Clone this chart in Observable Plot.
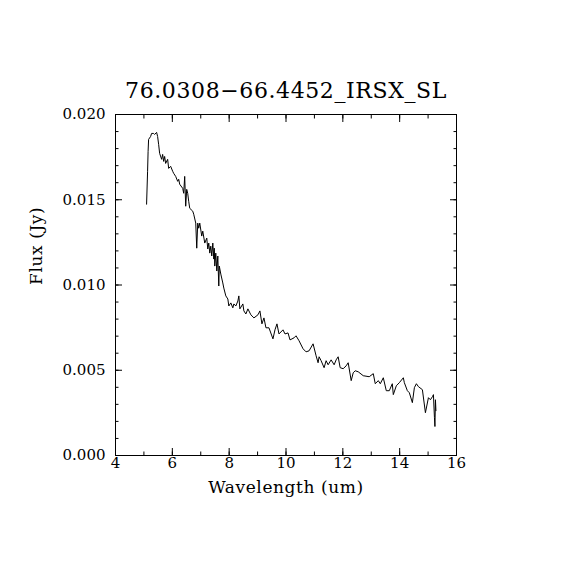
<!DOCTYPE html>
<html>
<head>
<meta charset="utf-8">
<script src="https://cdn.jsdelivr.net/npm/d3@7"></script>
<script src="https://cdn.jsdelivr.net/npm/@observablehq/plot@0.6"></script>
<style>
  html, body { margin: 0; padding: 0; background: #fff; }
  #chart { width: 570px; height: 570px; overflow: hidden; }
</style>
</head>
<body>
<div id="chart"></div>
<script>
const title = "76.0308\u221266.4452_IRSX_SL";
const xLabel = "Wavelength (um)";
const yLabel = "Flux (Jy)";

const wavelength = [
  5.094, 5.129, 5.147, 5.165, 5.235, 5.271, 5.341, 5.376, 5.447, 5.482,
  5.518, 5.553, 5.624, 5.659, 5.694, 5.729, 5.765, 5.835, 5.871, 5.941,
  6.012, 6.047, 6.118, 6.188, 6.224, 6.259, 6.365, 6.400, 6.435, 6.471,
  6.506, 6.541, 6.576, 6.612, 6.718, 6.753, 6.824, 6.859, 6.894,
  6.929, 6.965, 7.035, 7.071, 7.141, 7.212, 7.247, 7.282, 7.318, 7.353,
  7.388, 7.424, 7.459, 7.476, 7.494, 7.529, 7.565, 7.600, 7.635, 7.653,
  7.706, 7.776, 7.812, 7.882, 7.953, 7.988, 8.059, 8.129, 8.165, 8.235,
  8.306, 8.341, 8.376, 8.482, 8.518,
  8.588, 8.659, 8.765, 8.871,
  9.012, 9.082, 9.153, 9.224, 9.294, 9.400, 9.541, 9.612, 9.682, 9.753,
  9.894, 9.965, 10.071, 10.141, 10.282, 10.353, 10.459, 10.600, 10.706, 10.812,
  10.953, 11.059, 11.129, 11.165, 11.235, 11.341, 11.412, 11.482, 11.588, 11.694,
  11.765, 11.835, 11.906, 12.012, 12.118, 12.188, 12.294, 12.365, 12.435, 12.541,
  12.718, 12.929, 13.071, 13.141, 13.247, 13.318, 13.424, 13.529, 13.635, 13.741,
  13.776, 13.882, 13.988, 14.129, 14.165, 14.271, 14.341, 14.447, 14.518, 14.588,
  14.659, 14.800, 14.906, 15.012, 15.082, 15.153, 15.188, 15.224, 15.241, 15.259,
  15.276
];

const flux = [
  0.01474, 0.01667, 0.01784, 0.01854, 0.01871, 0.01889, 0.01889, 0.01883, 0.01895, 0.01871,
  0.01825, 0.01772, 0.01737, 0.01766, 0.01725, 0.01754, 0.01713, 0.01737, 0.01684, 0.01696,
  0.01667, 0.01655, 0.01637, 0.01608, 0.01620, 0.01591, 0.01567, 0.01538, 0.01637, 0.01462,
  0.01561, 0.01538, 0.01491, 0.01450, 0.01433, 0.01415, 0.01363, 0.01216, 0.01363,
  0.01333, 0.01363, 0.01287, 0.01316, 0.01246, 0.01275, 0.01211, 0.01246, 0.01187, 0.01228,
  0.01170, 0.01246, 0.01152, 0.01216, 0.01111, 0.01187, 0.01082, 0.01170, 0.00994, 0.01111,
  0.01064, 0.01012, 0.00982, 0.00936, 0.00918, 0.00877, 0.00895, 0.00866, 0.00889, 0.00877,
  0.00906, 0.00936, 0.00860, 0.00889, 0.00848,
  0.00830, 0.00860, 0.00825, 0.00807,
  0.00825, 0.00848, 0.00772, 0.00807, 0.00749, 0.00749, 0.00684, 0.00737, 0.00772, 0.00713,
  0.00737, 0.00713, 0.00719, 0.00678, 0.00690, 0.00702, 0.00673, 0.00626, 0.00608, 0.00614,
  0.00655, 0.00585, 0.00544, 0.00579, 0.00556, 0.00515, 0.00556, 0.00532, 0.00561, 0.00532,
  0.00561, 0.00579, 0.00515, 0.00509, 0.00526, 0.00544, 0.00439, 0.00485, 0.00497, 0.00491,
  0.00468, 0.00462, 0.00480, 0.00421, 0.00439, 0.00421, 0.00456, 0.00380, 0.00380, 0.00421,
  0.00357, 0.00409, 0.00427, 0.00456, 0.00427, 0.00380, 0.00368, 0.00310, 0.00398, 0.00421,
  0.00404, 0.00386, 0.00251, 0.00339, 0.00327, 0.00345, 0.00357, 0.00222, 0.00170, 0.00327,
  0.00263
];

const xMajorTicks = [4, 6, 8, 10, 12, 14, 16];
const xMinorTicks = [4, 5, 6, 7, 8, 9, 10, 11, 12, 13, 14, 15, 16];
const yMajorTicks = [0, 0.005, 0.010, 0.015, 0.020];
const yMinorTicks = [0, 0.001, 0.002, 0.003, 0.004, 0.005, 0.006, 0.007, 0.008, 0.009, 0.010,
  0.011, 0.012, 0.013, 0.014, 0.015, 0.016, 0.017, 0.018, 0.019, 0.020];

const spectrum = wavelength.map((w, i) => ({w, f: flux[i]}));

const font = "DejaVu Serif, Liberation Serif, serif";
const blank = () => "";

const chart = Plot.plot({
  width: 570,
  height: 570,
  marginLeft: 115,
  marginRight: 114,
  marginTop: 114,
  marginBottom: 115,
  style: {fontFamily: font, background: "#fff", color: "#000"},
  x: {domain: [4, 16]},
  y: {domain: [0, 0.02]},
  marks: [
    Plot.frame({stroke: "#000", strokeWidth: 1}),
    // labels
    Plot.axisX(xMajorTicks, {anchor: "bottom", tickSize: 0, tickPadding: 2, fontSize: 15, label: null, tickFormat: d => String(d)}),
    Plot.axisY(yMajorTicks, {anchor: "left", tickSize: 0, tickPadding: 10, fontSize: 15, label: null, tickFormat: d3.format(".3f")}),
    // inward major ticks
    Plot.axisX(xMajorTicks, {anchor: "bottom", tickSize: -7, tickFormat: blank, label: null}),
    Plot.axisX(xMajorTicks, {anchor: "top", tickSize: -7, tickFormat: blank, label: null}),
    Plot.axisY(yMajorTicks, {anchor: "left", tickSize: -7, tickFormat: blank, label: null}),
    Plot.axisY(yMajorTicks, {anchor: "right", tickSize: -7, tickFormat: blank, label: null}),
    // inward minor ticks
    Plot.axisX(xMinorTicks, {anchor: "bottom", tickSize: -3.5, tickFormat: blank, label: null}),
    Plot.axisX(xMinorTicks, {anchor: "top", tickSize: -3.5, tickFormat: blank, label: null}),
    Plot.axisY(yMinorTicks, {anchor: "left", tickSize: -3.5, tickFormat: blank, label: null}),
    Plot.axisY(yMinorTicks, {anchor: "right", tickSize: -3.5, tickFormat: blank, label: null}),
    // spectrum
    Plot.line(spectrum, {x: "w", y: "f", stroke: "#000", strokeWidth: 1}),
    // title and axis labels
    Plot.text([title], {text: d => d, frameAnchor: "top", dy: -32, fontSize: 22, fill: "#000", style: "letter-spacing:0.5px"}),
    Plot.text([xLabel], {text: d => d, frameAnchor: "bottom", dy: 37, fontSize: 17, fill: "#000"}),
    Plot.text([yLabel], {text: d => d, frameAnchor: "left", dx: -79, rotate: -90, fontSize: 17, fill: "#000"})
  ]
});

// extra letter spacing on title and axis labels to match the wider reference lettering
chart.querySelectorAll("g[aria-label='text'] text").forEach(t => {
  t.style.letterSpacing = "0.6px";
});

document.getElementById("chart").appendChild(chart);
</script>
</body>
</html>
